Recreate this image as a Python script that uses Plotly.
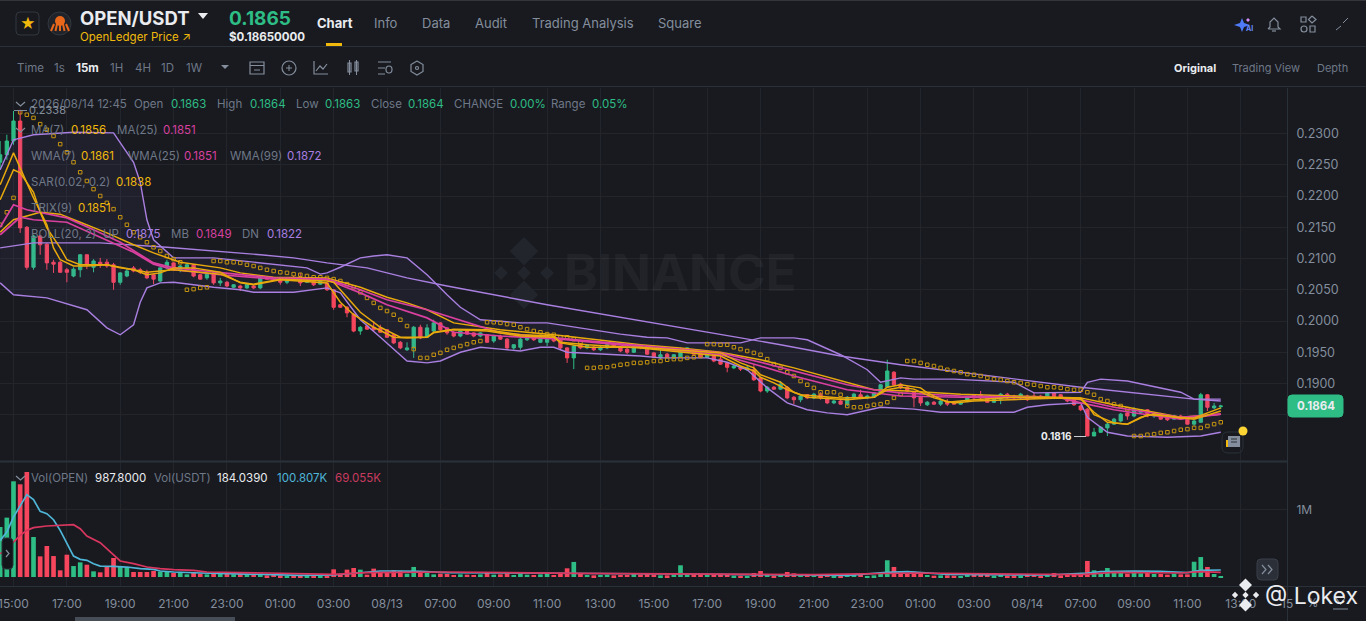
import pandas as pd
import plotly.graph_objects as go

W, H = 1366, 621
BG = "#181a20"
GRID = "#22252c"
BORDER = "#2b3139"
GREY = "#848e9c"
DIM = "#6f7887"
WHITE = "#eaecef"
UP = "#2ebd85"
DOWN = "#f6465d"
GOLD = "#f0b90b"
YEL = "#e8a90c"
PINK = "#d9409f"
PURPLE = "#a97fe0"

# === candles, one every 15 minutes ===
times = pd.date_range("2026-08-12 14:30", periods=184, freq="15min")

opens = [
    .2254, .2266, .2288, .2320, .2150, .2086, .2136, .2123, .2094, .2094,
    .2082, .2072, .2082, .2106, .2086, .2094, .2094, .2090, .2062, .2072,
    .2085, .2082, .2078, .2074, .2064, .2085, .2093, .2082, .2085, .2090,
    .2074, .2069, .2077, .2061, .2062, .2054, .2056, .2053, .2056, .2053,
    .2070, .2069, .2069, .2062, .2069, .2066, .2062, .2064, .2059, .2061,
    .2050, .2026, .2022, .2011, .1984, .1992, .1990, .1989, .1986, .1978,
    .1966, .1954, .1957, .1990, .1974, .1984, .1997, .1989, .1982, .1976,
    .1984, .1981, .1976, .1978, .1968, .1976, .1971, .1957, .1958, .1970,
    .1974, .1966, .1966, .1971, .1970, .1957, .1941, .1963, .1957, .1958,
    .1954, .1957, .1962, .1957, .1955, .1950, .1962, .1955, .1949, .1941,
    .1947, .1941, .1942, .1950, .1952, .1949, .1942, .1946, .1939, .1933,
    .1925, .1926, .1922, .1922, .1909, .1888, .1894, .1891, .1894, .1878,
    .1874, .1882, .1877, .1883, .1877, .1869, .1872, .1866, .1877, .1882,
    .1877, .1878, .1885, .1894, .1918, .1899, .1894, .1886, .1878, .1866,
    .1870, .1867, .1870, .1870, .1867, .1872, .1882, .1882, .1877, .1870,
    .1875, .1883, .1880, .1877, .1880, .1880, .1880, .1877, .1885, .1882,
    .1877, .1875, .1864, .1859, .1816, .1822, .1829, .1835, .1840, .1853,
    .1848, .1854, .1858, .1848, .1851, .1845, .1843, .1848, .1845, .1835,
    .1838, .1882, .1861, .1863,
]
closes = [
    .2266, .2288, .2320, .2149, .2086, .2136, .2122, .2093, .2091, .2078,
    .2078, .2083, .2106, .2090, .2096, .2090, .2088, .2062, .2077, .2080,
    .2080, .2078, .2069, .2067, .2085, .2094, .2082, .2088, .2090, .2072,
    .2067, .2075, .2061, .2064, .2056, .2058, .2053, .2059, .2053, .2070,
    .2067, .2066, .2062, .2067, .2066, .2061, .2069, .2058, .2064, .2050,
    .2022, .2022, .2013, .1984, .1990, .1987, .1986, .1982, .1974, .1965,
    .1957, .1957, .1990, .1973, .1989, .1997, .1986, .1981, .1976, .1984,
    .1979, .1976, .1981, .1966, .1976, .1971, .1957, .1962, .1971, .1974,
    .1970, .1974, .1973, .1968, .1957, .1941, .1960, .1957, .1962, .1954,
    .1958, .1962, .1958, .1952, .1950, .1960, .1957, .1947, .1942, .1946,
    .1942, .1946, .1952, .1957, .1947, .1942, .1949, .1936, .1931, .1926,
    .1928, .1923, .1925, .1906, .1888, .1894, .1891, .1899, .1877, .1874,
    .1880, .1877, .1883, .1877, .1869, .1872, .1867, .1878, .1883, .1877,
    .1880, .1885, .1898, .1920, .1898, .1893, .1888, .1877, .1869, .1870,
    .1867, .1872, .1867, .1867, .1870, .1878, .1877, .1877, .1870, .1875,
    .1883, .1877, .1877, .1883, .1874, .1877, .1877, .1885, .1877, .1877,
    .1872, .1866, .1858, .1816, .1822, .1830, .1835, .1843, .1851, .1848,
    .1859, .1858, .1848, .1853, .1843, .1842, .1848, .1843, .1835, .1840,
    .1882, .1862, .1864, .1864,
]
highs = [
    .2288, .2298, .2336, .2338, .2152, .2138, .2138, .2125, .2098, .2096,
    .2085, .2086, .2107, .2107, .2099, .2101, .2099, .2093, .2078, .2085,
    .2088, .2085, .2082, .2075, .2086, .2098, .2094, .2090, .2093, .2091,
    .2075, .2078, .2078, .2069, .2064, .2059, .2058, .2061, .2058, .2072,
    .2072, .2070, .2070, .2069, .2072, .2077, .2070, .2066, .2066, .2062,
    .2051, .2027, .2024, .2013, .1992, .1994, .2000, .1994, .1987, .1979,
    .1968, .1966, .1992, .1994, .1995, .2002, .1998, .1990, .1984, .1986,
    .1986, .1982, .1982, .1979, .1978, .1978, .1973, .1963, .1973, .1976,
    .1976, .1976, .1978, .1973, .1971, .1958, .1962, .1965, .1963, .1960,
    .1960, .1965, .1968, .1958, .1957, .1963, .1963, .1957, .1950, .1955,
    .1949, .1947, .1958, .1958, .1954, .1950, .1950, .1947, .1947, .1934,
    .1930, .1928, .1928, .1931, .1910, .1896, .1896, .1904, .1896, .1880,
    .1882, .1883, .1885, .1886, .1878, .1874, .1874, .1880, .1885, .1890,
    .1882, .1886, .1899, .1938, .1920, .1901, .1896, .1888, .1880, .1872,
    .1872, .1874, .1875, .1872, .1872, .1880, .1883, .1888, .1878, .1877,
    .1885, .1885, .1882, .1885, .1882, .1886, .1882, .1886, .1886, .1883,
    .1878, .1877, .1866, .1861, .1829, .1832, .1837, .1845, .1853, .1854,
    .1862, .1859, .1859, .1854, .1853, .1846, .1850, .1850, .1846, .1842,
    .1885, .1883, .1869, .1866,
]
lows = [
    .2242, .2258, .2282, .2141, .2082, .2082, .2106, .2082, .2077, .2077,
    .2062, .2070, .2070, .2083, .2078, .2085, .2085, .2050, .2058, .2070,
    .2078, .2075, .2067, .2059, .2062, .2083, .2080, .2078, .2082, .2070,
    .2066, .2066, .2058, .2056, .2054, .2053, .2048, .2051, .2051, .2051,
    .2066, .2064, .2058, .2059, .2064, .2056, .2061, .2056, .2058, .2048,
    .2018, .2021, .2006, .1982, .1978, .1986, .1984, .1981, .1973, .1963,
    .1955, .1952, .1941, .1971, .1973, .1982, .1984, .1978, .1974, .1974,
    .1978, .1974, .1974, .1965, .1965, .1970, .1955, .1954, .1954, .1968,
    .1968, .1965, .1960, .1966, .1955, .1933, .1923, .1955, .1955, .1952,
    .1952, .1955, .1957, .1950, .1947, .1949, .1955, .1946, .1941, .1939,
    .1941, .1939, .1941, .1949, .1946, .1941, .1941, .1934, .1930, .1918,
    .1923, .1920, .1920, .1904, .1886, .1885, .1890, .1890, .1875, .1867,
    .1870, .1875, .1875, .1874, .1867, .1867, .1866, .1864, .1875, .1875,
    .1875, .1877, .1883, .1893, .1896, .1891, .1886, .1862, .1864, .1864,
    .1866, .1864, .1864, .1866, .1866, .1870, .1875, .1875, .1869, .1869,
    .1867, .1875, .1875, .1875, .1872, .1875, .1875, .1875, .1875, .1875,
    .1870, .1864, .1856, .1816, .1816, .1821, .1816, .1834, .1838, .1842,
    .1846, .1853, .1846, .1845, .1842, .1840, .1842, .1842, .1834, .1832,
    .1837, .1856, .1859, .1859,
]
volumes_k = [
    746, 886, 1428, 1383, 1567, 597, 308, 463, 313, 100,
    333, 164, 219, 184, 85, 70, 159, 284, 149, 139,
    75, 75, 75, 90, 80, 75, 60, 60, 40, 75,
    50, 40, 50, 60, 50, 40, 50, 40, 40, 50,
    25, 30, 25, 12, 20, 25, 18, 20, 18, 22,
    115, 40, 110, 135, 110, 35, 125, 75, 60, 100,
    90, 50, 150, 75, 60, 40, 50, 45, 30, 40,
    35, 30, 40, 60, 35, 40, 55, 30, 55, 35,
    30, 40, 45, 30, 65, 130, 225, 50, 30, 25,
    30, 35, 25, 30, 30, 50, 35, 45, 35, 25,
    25, 30, 175, 40, 30, 30, 35, 40, 50, 40,
    20, 20, 15, 60, 90, 45, 20, 35, 75, 55,
    45, 35, 30, 25, 35, 20, 20, 45, 30, 30,
    15, 25, 70, 250, 150, 70, 45, 80, 60, 30,
    20, 25, 25, 20, 15, 35, 30, 35, 30, 20,
    35, 20, 25, 20, 30, 30, 20, 30, 60, 25,
    30, 35, 35, 240, 100, 60, 135, 70, 85, 50,
    70, 55, 60, 45, 45, 35, 50, 40, 40, 228,
    298, 150, 45, 15,
]
sar = [
    .2154, .2174, .2197, .2334, .2330, .2325, .2315, .2306, .2296, .2283,
    .2270, .2254, .2238, .2224, .2211, .2200, .2189, .2179, .2166, .2154,
    .2142, .2134, .2126, .2118, .2112, .2104, .2099, .2094, .2050, .2051,
    .2053, .2054, .2096, .2096, .2094, .2094, .2093, .2090, .2088, .2085,
    .2082, .2080, .2078, .2077, .2075, .2074, .2072, .2070, .2070, .2069,
    .2067, .2064, .2059, .2054, .2046, .2037, .2029, .2021, .2016, .2010,
    .2002, .1992, .1955, .1941, .1941, .1946, .1949, .1954, .1957, .1960,
    .1963, .1966, .1968, .1998, .1998, .1997, .1995, .1994, .1990, .1987,
    .1984, .1982, .1979, .1978, .1974, .1974, .1971, .1966, .1925, .1925,
    .1926, .1926, .1928, .1930, .1931, .1933, .1933, .1934, .1936, .1936,
    .1938, .1939, .1939, .1941, .1942, .1944, .1963, .1963, .1962, .1962,
    .1958, .1955, .1952, .1949, .1946, .1939, .1931, .1925, .1918, .1912,
    .1904, .1898, .1893, .1886, .1886, .1886, .1882, .1864, .1862, .1862,
    .1864, .1866, .1867, .1870, .1877, .1883, .1936, .1936, .1933, .1930,
    .1928, .1925, .1922, .1920, .1918, .1915, .1914, .1912, .1909, .1907,
    .1906, .1904, .1902, .1901, .1899, .1898, .1896, .1894, .1894, .1893,
    .1891, .1890, .1890, .1886, .1882, .1875, .1872, .1867, .1864, .1859,
    .1816, .1816, .1818, .1819, .1821, .1822, .1824, .1826, .1827, .1829,
    .1829, .1832, .1835, .1838,
]
assert len(opens) == len(closes) == len(highs) == len(lows) == len(volumes_k) == len(sar) == 184

# === indicator lines, read at the candles where they bend (candle number counted from 15:00) ===
wma7_at = [-2, 0, 1, 3, 5, 6, 7, 9, 11, 14, 16, 18, 20, 22, 24, 27, 31, 34, 36, 40, 47, 49, 51, 54, 57, 59, 62, 63, 66, 71, 76, 81, 82, 86, 94, 106, 109, 111, 112, 115, 117, 119, 125, 129, 131, 133, 136, 137, 140, 144, 150, 157, 160, 161, 162, 165, 167, 169, 171, 175, 177, 181]
wma7 = [.2218, .2269, .2245, .2197, .2154, .2117, .2098, .2088, .2088, .2090, .2085, .2082, .2074, .2077, .2085, .2085, .2078, .2061, .2058, .2066, .2061, .2030, .2010, .1990, .1974, .1973, .1974, .1981, .1986, .1984, .1976, .1974, .1965, .1958, .1958, .1949, .1933, .1925, .1914, .1902, .1886, .1878, .1874, .1878, .1894, .1898, .1893, .1885, .1870, .1874, .1878, .1878, .1877, .1866, .1850, .1837, .1835, .1846, .1851, .1845, .1845, .1861]
ma7_at = [-2, 0, 1, 3, 4, 5, 7, 8, 10, 14, 20, 24, 31, 34, 36, 40, 47, 48, 50, 52, 55, 58, 62, 63, 66, 71, 76, 81, 82, 86, 94, 106, 109, 111, 112, 114, 116, 118, 124, 129, 131, 133, 135, 138, 141, 144, 157, 160, 162, 164, 167, 170, 173, 177, 181]
ma7 = [.2194, .2242, .2237, .2206, .2174, .2149, .2117, .2098, .2090, .2090, .2078, .2082, .2075, .2062, .2059, .2067, .2064, .2062, .2038, .2014, .1990, .1974, .1974, .1982, .1987, .1986, .1978, .1976, .1966, .1962, .1957, .1944, .1928, .1920, .1910, .1901, .1890, .1882, .1877, .1878, .1890, .1894, .1891, .1877, .1869, .1872, .1877, .1875, .1854, .1838, .1835, .1850, .1848, .1843, .1856]
trix_at = [-2, 0, 4, 7, 10, 14, 18, 21, 25, 31, 34, 39, 47, 52, 56, 59, 62, 66, 73, 81, 94, 100, 106, 112, 117, 122, 125, 129, 134, 142, 150, 157, 160, 165, 170, 175, 181]
trix = [.2142, .2162, .2174, .2171, .2158, .2141, .2122, .2109, .2094, .2085, .2077, .2070, .2069, .2054, .2038, .2029, .2018, .1997, .1986, .1978, .1962, .1957, .1950, .1938, .1925, .1910, .1901, .1890, .1888, .1883, .1880, .1878, .1877, .1866, .1856, .1846, .1851]
ma25_at = [-2, 0, 2, 8, 12, 16, 19, 21, 24, 31, 34, 39, 47, 52, 56, 62, 73, 81, 94, 106, 112, 117, 125, 129, 133, 142, 157, 160, 165, 170, 175, 181]
ma25 = [.2150, .2186, .2178, .2165, .2146, .2126, .2106, .2093, .2085, .2077, .2074, .2069, .2067, .2050, .2034, .2018, .1981, .1973, .1960, .1949, .1934, .1920, .1898, .1890, .1885, .1880, .1877, .1874, .1862, .1854, .1846, .1851]
wma25_at = [-2, 1, 3, 8, 13, 18, 21, 24, 31, 39, 47, 52, 56, 62, 66, 73, 82, 94, 106, 112, 117, 125, 129, 133, 142, 157, 160, 165, 170, 175, 181]
wma25 = [.2138, .2166, .2162, .2158, .2134, .2110, .2091, .2082, .2074, .2067, .2066, .2045, .2026, .2005, .1982, .1976, .1971, .1958, .1946, .1928, .1912, .1890, .1885, .1880, .1878, .1877, .1869, .1858, .1850, .1843, .1851]
wma99_at = [-2, 3, 13, 23, 37, 42, 47, 53, 59, 65, 80, 100, 115, 124, 133, 160, 177, 181]
wma99 = [.2117, .2125, .2125, .2118, .2106, .2101, .2093, .2085, .2069, .2056, .2026, .1989, .1962, .1944, .1930, .1894, .1875, .1872]
boll_up_at = [-2, 0, 3, 9, 15, 16, 18, 19, 20, 21, 24, 30, 36, 44, 46, 47, 49, 52, 54, 56, 59, 62, 65, 67, 70, 76, 80, 85, 91, 95, 98, 101, 109, 112, 117, 119, 124, 128, 130, 133, 135, 141, 150, 153, 160, 161, 163, 167, 175, 177, 181]
boll_up = [.2242, .2290, .2298, .2302, .2301, .2286, .2254, .2222, .2162, .2130, .2101, .2101, .2094, .2085, .2075, .2077, .2086, .2101, .2104, .2106, .2101, .2074, .2042, .2022, .2002, .1997, .1997, .1989, .1979, .1974, .1973, .1965, .1965, .1973, .1973, .1970, .1946, .1922, .1902, .1909, .1907, .1907, .1902, .1885, .1886, .1902, .1907, .1904, .1886, .1875, .1875]
boll_dn_at = [-2, 0, 5, 11, 14, 16, 18, 19, 20, 22, 24, 30, 34, 36, 42, 46, 47, 49, 52, 55, 58, 59, 62, 64, 67, 70, 73, 76, 79, 81, 83, 89, 94, 97, 104, 107, 110, 113, 116, 119, 122, 125, 130, 135, 139, 150, 152, 155, 160, 161, 164, 167, 173, 178, 181]
boll_dn = [.2061, .2042, .2037, .2018, .1989, .1978, .1994, .2030, .2053, .2061, .2062, .2054, .2050, .2046, .2046, .2051, .2053, .2045, .2002, .1974, .1946, .1936, .1933, .1936, .1950, .1958, .1955, .1952, .1958, .1958, .1950, .1947, .1944, .1941, .1941, .1934, .1922, .1893, .1869, .1858, .1853, .1850, .1862, .1859, .1854, .1854, .1862, .1866, .1869, .1846, .1822, .1816, .1814, .1816, .1822]
vol_ma5_at = [-2, -1, 0, 1, 2, 3, 4, 5, 6, 7, 8, 9, 10, 11, 12, 13, 15, 17, 19, 21, 22, 24, 28, 32, 38, 43, 48, 49, 51, 53, 55, 58, 61, 65, 84, 100, 110, 125, 131, 134, 140, 155, 161, 163, 168, 172, 176, 178, 181]
vol_ma5 = [547, 672, 895, 1070, 1229, 1154, 980, 945, 855, 696, 497, 313, 264, 249, 199, 164, 159, 149, 124, 114, 90, 75, 60, 50, 40, 25, 30, 40, 60, 75, 90, 90, 85, 65, 60, 45, 35, 25, 70, 80, 40, 30, 60, 80, 90, 85, 65, 100, 105]
vol_ma10_at = [-2, -1, 0, 1, 2, 3, 5, 7, 9, 10, 11, 13, 14, 15, 16, 18, 20, 22, 24, 27, 29, 38, 48, 53, 65, 85, 100, 120, 135, 150, 160, 165, 175, 178, 181]
vol_ma10 = [348, 398, 522, 622, 696, 736, 761, 771, 781, 721, 612, 512, 423, 323, 239, 199, 149, 124, 109, 100, 75, 60, 40, 65, 75, 55, 50, 35, 60, 40, 35, 70, 60, 80, 70]

# === tick labels ===
price_ticks = [0.2300, 0.2250, 0.2200, 0.2150, 0.2100, 0.2050, 0.2000, 0.1950, 0.1900, 0.1850]
price_labels = ["0.2300", "0.2250", "0.2200", "0.2150", "0.2100", "0.2050", "0.2000", "0.1950", "0.1900", ""]
time_ticks = pd.date_range("2026-08-12 15:00", periods=24, freq="2h")
time_labels = ["", "17:00", "19:00", "21:00", "23:00", "01:00", "03:00", "08/13",
               "07:00", "09:00", "11:00", "13:00", "15:00", "17:00", "19:00", "21:00",
               "23:00", "01:00", "03:00", "08/14", "07:00", "09:00", "11:00", "13:00"]


def at(numbers):
    return [pd.Timestamp("2026-08-12 15:00") + pd.Timedelta(minutes=15 * n) for n in numbers]


def px(x):
    return x / W


def py(y):
    return 1 - y / H


shapes = []
notes = []


def text(x, y, s, color=GREY, size=11.5, bold=False, anchor="left"):
    if anchor == "left":
        x -= 1
    notes.append(dict(x=px(x), y=py(y), xref="paper", yref="paper", text=f"<b>{s}</b>" if bold else s,
                      showarrow=False, xanchor=anchor, yanchor="middle", borderpad=0,
                      font=dict(family="Inter", size=size, color=color)))


def line(x0, y0, x1, y1, color=BORDER, width=1):
    shapes.append(dict(type="line", xref="paper", yref="paper", x0=px(x0), y0=py(y0), x1=px(x1), y1=py(y1),
                       line=dict(color=color, width=width)))


def box(x0, y0, x1, y1, color=GREY, width=1.2, fill="rgba(0,0,0,0)", kind="rect", layer="above"):
    shapes.append(dict(type=kind, xref="paper", yref="paper", x0=px(x0), y0=py(y0), x1=px(x1), y1=py(y1),
                       line=dict(color=color, width=width), fillcolor=fill, layer=layer))


def rounded(x0, y0, x1, y1, r, color, fill, width=1):
    a, b, c, d = px(x0), py(y0), px(x1), py(y1)
    rx, ry = r / W, r / H
    path = (f"M{a + rx},{b} L{c - rx},{b} Q{c},{b} {c},{b - ry} L{c},{d + ry} Q{c},{d} {c - rx},{d} "
            f"L{a + rx},{d} Q{a},{d} {a},{d + ry} L{a},{b - ry} Q{a},{b} {a + rx},{b} Z")
    shapes.append(dict(type="path", xref="paper", yref="paper", path=path, fillcolor=fill,
                       line=dict(color=color, width=width)))


def poly(points, color, fill=None, width=1.2, layer="above"):
    path = "M" + " L".join(f"{px(a)},{py(b)}" for a, b in points)
    if fill:
        path += " Z"
    shapes.append(dict(type="path", xref="paper", yref="paper", path=path, layer=layer,
                       fillcolor=fill or "rgba(0,0,0,0)", line=dict(color=color, width=width)))


def diamond_logo(cx, cy, s, color, layer="above"):
    for dx, dy, r in [(0, -1, .62), (0, 1, .62), (-1, 0, .3), (1, 0, .3), (0, 0, .3)]:
        x, y = cx + dx * s, cy + dy * s
        if r == .62:
            x, y = cx, cy + dy * s * .95
        q = r * s
        poly([(x - q, y), (x, y - q), (x + q, y), (x, y + q)], color, fill=color, width=0, layer=layer)


fig = go.Figure()
common_x = dict(xaxis="x", yaxis="y", hoverinfo="skip")

fig.add_trace(go.Candlestick(
    x=times, open=opens, high=highs, low=lows, close=closes, xaxis="x", yaxis="y", hoverinfo="skip",
    increasing=dict(line=dict(color=UP, width=1), fillcolor=UP),
    decreasing=dict(line=dict(color=DOWN, width=1), fillcolor=DOWN),
    showlegend=False))

# Bollinger band with its soft fill
fig.add_trace(go.Scatter(x=at(boll_up_at), y=boll_up, mode="lines", line=dict(color=PURPLE, width=1.4), **common_x))
fig.add_trace(go.Scatter(x=at(boll_dn_at), y=boll_dn, mode="lines", line=dict(color=PURPLE, width=1.4),
                         fill="tonexty", fillcolor="rgba(140,110,220,0.07)", **common_x))
fig.add_trace(go.Scatter(x=at(wma99_at), y=wma99, mode="lines", line=dict(color=PURPLE, width=1.4), **common_x))
fig.add_trace(go.Scatter(x=times, y=sar, mode="markers", hoverinfo="skip",
                         marker=dict(symbol="square-open", size=3.5, color="#c4930f", line=dict(width=1))))
fig.add_trace(go.Scatter(x=at(trix_at), y=trix, mode="lines", line=dict(color=YEL, width=1.5), **common_x))
fig.add_trace(go.Scatter(x=at(ma25_at), y=ma25, mode="lines", line=dict(color=PINK, width=1.7), **common_x))
fig.add_trace(go.Scatter(x=at(wma25_at), y=wma25, mode="lines", line=dict(color=PINK, width=1.7), **common_x))
fig.add_trace(go.Scatter(x=at(ma7_at), y=ma7, mode="lines", line=dict(color=YEL, width=1.5), **common_x))
fig.add_trace(go.Scatter(x=at(wma7_at), y=wma7, mode="lines", line=dict(color=YEL, width=1.5), **common_x))

bar_colors = [UP if c >= o else DOWN for o, c in zip(opens, closes)]
fig.add_trace(go.Bar(x=times, y=volumes_k, marker=dict(color=bar_colors, line_width=0), xaxis="x2", yaxis="y2", hoverinfo="skip"))
fig.add_trace(go.Scatter(x=at(vol_ma5_at), y=vol_ma5, mode="lines", line=dict(color="#4fb6d8", width=1.7), xaxis="x2", yaxis="y2", hoverinfo="skip"))
fig.add_trace(go.Scatter(x=at(vol_ma10_at), y=vol_ma10, mode="lines", line=dict(color="#d8365f", width=1.7), xaxis="x2", yaxis="y2", hoverinfo="skip"))

# === header ===
line(0, 0.5, W, 0.5, "#33363d", 1)
line(0, 46.5, W, 46.5)
line(0, 86.5, W, 86.5)
rounded(16, 12, 39, 35, 4, "#33383f", "rgba(0,0,0,0)")
text(27.5, 24, "★", "#f0b90b", 15, anchor="center")
box(48, 12, 71, 35, "#33383f", 1, "#20232a", "circle")
box(55, 16, 65, 26, "#e8671a", 0, "#e8671a", "circle")
for dx in (-6, -3, 0, 3, 6):
    line(60 + dx, 24, 60 + dx * 1.5, 31, "#e8671a", 2)
text(80, 18, "OPEN/USDT", WHITE, 18.5, True)
poly([(198, 13), (208, 13), (203, 19)], WHITE, fill=WHITE, width=0)
text(229, 18, "0.1865", UP, 19, True)
text(80, 37, "OpenLedger Price ↗", GOLD, 11.5)
text(229, 37, "$0.18650000", WHITE, 11.5, True)
text(317, 23, "Chart", WHITE, 13, True)
box(326, 43, 342, 46, GOLD, 0, GOLD)
for x, s in [(374, "Info"), (422, "Data"), (475, "Audit"), (532, "Trading Analysis"), (658, "Square")]:
    text(x, 23, s, GREY, 13)

# AI sparkle, bell, grid, collapse arrows
poly([(1234, 25), (1240, 23), (1242, 18), (1244, 23), (1250, 25), (1244, 27), (1242, 32), (1240, 27)], "#4f7bf7", fill="#4f7bf7", width=0)
poly([(1246, 20), (1248, 18), (1250, 20), (1248, 22)], "#d48bf5", fill="#d48bf5", width=0)
text(1246, 29, "AI", "#6a8cff", 7, True)
poly([(1268, 29), (1270, 27), (1270, 22), (1274, 18), (1278, 22), (1278, 27), (1280, 29), (1268, 29)], GREY)
line(1272, 31, 1276, 31, GREY, 1.2)
box(1301, 17, 1306, 22)
poly([(1312, 16), (1316, 19.5), (1312, 23), (1308.5, 19.5), (1312, 16)], GREY)
box(1301, 26, 1307, 32, kind="circle")
box(1310, 26, 1315, 32)
line(1336, 30, 1341, 26, GREY)
line(1343, 23, 1348, 18, GREY)

# === toolbar ===
for x, s in [(17, "Time"), (54, "1s"), (110, "1H"), (135, "4H"), (161, "1D"), (186, "1W")]:
    text(x, 68, s, DIM, 11.5)
text(76, 68, "15m", WHITE, 11.5, True)
poly([(221, 65), (229, 65), (225, 69)], GREY, fill=GREY, width=0)
box(250, 62, 264, 74)
line(250, 65.5, 264, 65.5, GREY)
line(254, 70, 260, 70, GREY)
box(282, 61, 296, 75, kind="circle")
line(289, 65, 289, 71, GREY)
line(286, 68, 292, 68, GREY)
poly([(314, 61), (314, 74), (328, 74)], GREY)
poly([(316, 71), (320, 66), (323, 69), (327, 64)], GREY)
box(348, 63, 351, 72)
box(355, 62, 358, 71)
line(349.5, 60, 349.5, 75, GREY)
line(356.5, 60, 356.5, 75, GREY)
line(378, 62, 391, 62, GREY)
line(378, 68, 385, 68, GREY)
line(378, 74, 385, 74, GREY)
box(386, 66, 392, 73, kind="circle")
poly([(417, 61), (423, 64.5), (423, 71.5), (417, 75), (411, 71.5), (411, 64.5), (417, 61)], GREY)
box(415.5, 66.5, 418.5, 69.5, kind="circle")
text(1174, 68, "Original", WHITE, 11, True)
text(1232, 68, "Trading View", DIM, 11)
text(1317, 68, "Depth", DIM, 11)

# === readout rows above the price panel ===
rows = [
    (104, [(31, "2026/08/14 12:45", DIM), (134, "Open", DIM), (171, "0.1863", UP), (217, "High", DIM), (250, "0.1864", UP),
           (296, "Low", DIM), (325, "0.1863", UP), (371, "Close", DIM), (408, "0.1864", UP), (454, "CHANGE", DIM),
           (510, "0.00%", UP), (551, "Range", DIM), (592, "0.05%", UP)]),
    (130, [(31, "MA(7)", DIM), (71, "0.1856", GOLD), (117, "MA(25)", DIM), (163, "0.1851", PINK)]),
    (156, [(31, "WMA(7)", DIM), (81, "0.1861", GOLD), (128, "WMA(25)", DIM), (184, "0.1851", PINK), (230, "WMA(99)", DIM), (287, "0.1872", PURPLE)]),
    (182, [(31, "SAR(0.02, 0.2)", DIM), (116, "0.1838", GOLD)]),
    (208, [(31, "TRIX(9)", DIM), (78, "0.1851", GOLD)]),
    (234, [(31, "BOLL(20, 2)", DIM), (103, "UP", DIM), (126, "0.1875", PURPLE), (171, "MB", DIM), (196, "0.1849", PINK), (242, "DN", DIM), (267, "0.1822", PURPLE)]),
    (478, [(31, "Vol(OPEN)", DIM), (95, "987.8000", WHITE), (154, "Vol(USDT)", DIM), (217, "184.0390", WHITE), (277, "100.807K", "#4fb6d8"), (335, "69.055K", "#c93a5e")]),
]
for y, items in rows:
    for x, s, c in items:
        text(x, y, s, c, 11.5)
for y in (102, 128, 476):
    poly([(16, y), (20.5, y + 4), (25, y)], GREY)

# chart furniture
line(1287.5, 88, 1287.5, H, BORDER)
line(0, 461.5, 1287, 461.5, BORDER, 2)
line(0, 586.5, W, 586.5, BORDER, 1)
line(14, 110.5, 27, 110.5, GREY, 1)
text(29, 110, "0.2338", GREY, 11)
text(1041, 436, "0.1816", WHITE, 10, True)
line(1074, 436.5, 1086, 436.5, "#c9ccd1", 1)
rounded(1288, 395, 1343, 417, 4, UP, UP)
text(1315.5, 406, "0.1864", WHITE, 11.5, True, "center")
rounded(1222, 432, 1243, 453, 6, "#2b3139", "rgba(0,0,0,0)")
box(1228, 436, 1240, 447, "#848e9c", 0, "#848e9c")
line(1231, 439, 1237, 439, "#2b3139", 1)
line(1231, 442, 1237, 442, "#2b3139", 1)
box(1226, 440, 1228, 447, GOLD, 0, GOLD)
box(1238.5, 426.5, 1247.5, 435.5, "#fcd535", 0, "#fcd535", "circle")
rounded(2, 538, 13, 569, 4, "#2b3139", "#14151a")
poly([(6, 550), (9, 553.5), (6, 557)], GREY)
rounded(1257, 559, 1278, 580, 4, "#3a3f48", "#2b2f37")
poly([(1262, 565), (1266, 569.5), (1262, 574)], GREY)
poly([(1268, 565), (1272, 569.5), (1268, 574)], GREY)
box(75, 617, 235, H, "#474d57", 0, "#474d57")
text(13.5, 603, "15:00", GREY, 12, anchor="center")
text(1281, 603, "15", GREY, 12)
text(1307, 603, "%", GREY, 11.5)
line(1333, 609, 1348, 609, GREY)
poly([(1336, 598), (1340.5, 604), (1345, 598)], GREY)

# watermarks
diamond_logo(524, 273, 23, "#22252c", layer="below")
notes.append(dict(x=px(680), y=py(273), xref="paper", yref="paper", text="<b>BINANCE</b>", showarrow=False,
                  font=dict(family="Inter", size=51, color="rgba(255,255,255,0.045)")))
diamond_logo(1245.5, 595, 10.5, WHITE)
text(1265, 596, "@ Lokex", WHITE, 23)

price_axis = dict(domain=[py(461), py(88)], range=[0.1776, 0.23728], side="right", anchor="x",
                  tickvals=price_ticks, ticktext=price_labels, ticks="outside", ticklen=6,
                  tickcolor="rgba(0,0,0,0)", gridcolor=GRID, gridwidth=1, zeroline=False, showline=False,
                  tickfont=dict(family="Inter", size=12.5, color=GREY))
vol_axis = dict(domain=[py(586), py(462)], range=[-134, 1716], side="right", anchor="x2",
                tickvals=[1000], ticktext=["1M"], ticks="outside", ticklen=6, tickcolor="rgba(0,0,0,0)",
                gridcolor=GRID, gridwidth=1, zeroline=False, showline=False,
                tickfont=dict(family="Inter", size=12, color=GREY))
left = pd.Timestamp("2026-08-12 15:00") - pd.Timedelta(minutes=15 * 13.5 / 6.67)
right = pd.Timestamp("2026-08-12 15:00") + pd.Timedelta(minutes=15 * (1287 - 13.5) / 6.67)
time_axis = dict(domain=[0, 1287 / W], range=[left, right], tickvals=time_ticks, ticktext=time_labels,
                 gridcolor=GRID, gridwidth=1, zeroline=False, showline=False, rangeslider=dict(visible=False))

fig.update_layout(
    width=W, height=H, margin=dict(l=0, r=0, t=0, b=0), paper_bgcolor=BG, plot_bgcolor=BG,
    showlegend=False, hovermode=False, bargap=0.3, dragmode=False,
    xaxis=dict(time_axis, anchor="y", showticklabels=False),
    xaxis2=dict(time_axis, anchor="y2", matches="x", ticks="outside", ticklen=7, tickcolor="rgba(0,0,0,0)",
                tickfont=dict(family="Inter", size=12, color=GREY)),
    yaxis=price_axis, yaxis2=vol_axis, shapes=shapes, annotations=notes,
)

fig.write_html("out.html", config={"displayModeBar": False},
               post_script="document.body.style.margin='0';document.body.style.overflow='hidden';")
